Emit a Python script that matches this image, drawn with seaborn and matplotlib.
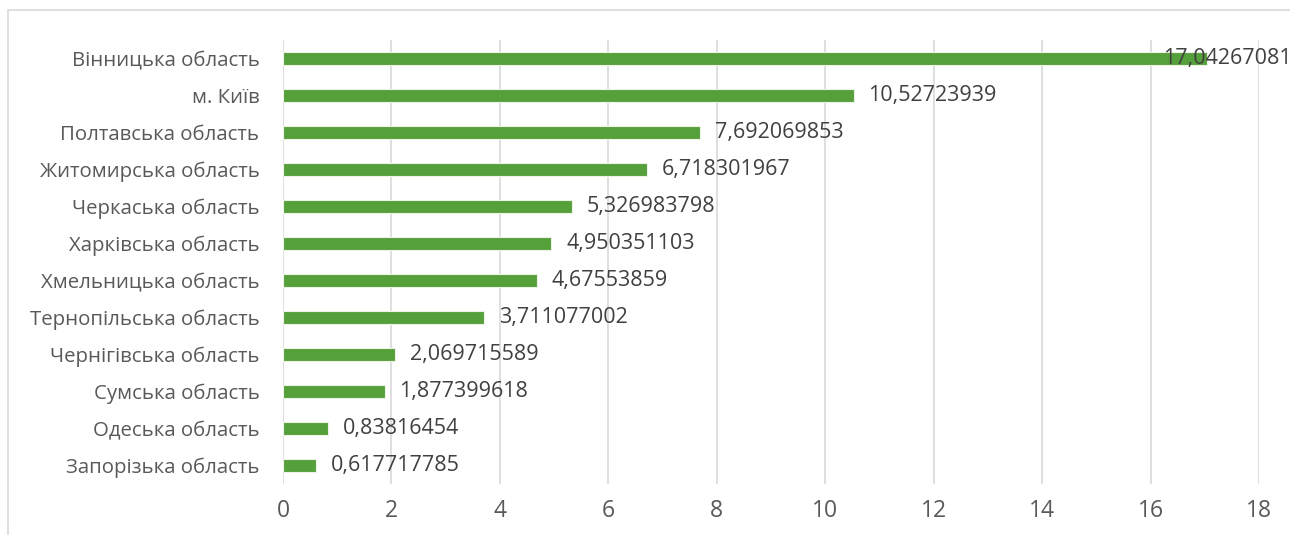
import matplotlib
matplotlib.use("Agg")
import matplotlib.pyplot as plt
import matplotlib.transforms as mtransforms
from matplotlib.patches import Rectangle
import seaborn as sns
import pandas as pd

regions = ["Вінницька область", "м. Київ", "Полтавська область", "Житомирська область",
           "Черкаська область", "Харківська область", "Хмельницька область",
           "Тернопільська область", "Чернігівська область", "Сумська область",
           "Одеська область", "Запорізька область"]
values = [17.04267081, 10.52723939, 7.692069853, 6.718301967, 5.326983798, 4.950351103,
          4.67553859, 3.711077002, 2.069715589, 1.877399618, 0.83816454, 0.617717785]
xticks = [0, 2, 4, 6, 8, 10, 12, 14, 16, 18]

sns.set_theme(style="white")
plt.rcParams['font.family'] = ['Open Sans', 'DejaVu Sans']

W, H = 1290, 535
fig = plt.figure(figsize=(W / 100, H / 100), dpi=100)
ax = fig.add_axes([283 / W, 1 - 484 / H, (1259 - 283) / W, (484 - 40) / H])

df = pd.DataFrame({"region": regions, "value": values})
sns.barplot(data=df, x="value", y="region", orient="h", color="#56A03C",
            saturation=1, width=0.36, edgecolor="#EAF3E4", linewidth=0.8, ax=ax)

ax.set_xlim(0, 18)
ax.set_xticks(xticks)
ax.set_xticklabels([str(t) for t in xticks])
ax.set_xlabel("")
ax.set_ylabel("")
ax.xaxis.grid(True, color="#D9D9D9", linewidth=1.2)
ax.set_axisbelow(True)
for s in ax.spines.values():
    s.set_visible(False)
ax.tick_params(axis="x", colors="#595959", labelsize=16.5, length=0, pad=11)
ax.tick_params(axis="y", colors="#595959", labelsize=14.7, length=0, pad=17)

trans = mtransforms.blended_transform_factory(ax.transAxes, ax.transData)
right_edge = 1 + (1292 - 1259) / (1259 - 283)
for i, v in enumerate(values):
    lab = repr(v).replace(".", ",")
    if v > 16:
        ax.text(right_edge, i, lab, transform=trans, ha="right", va="center",
                fontsize=15.5, color="#404040", clip_on=False)
    else:
        ax.annotate(lab, (v, i), xytext=(10.5, 0), textcoords="offset points",
                    ha="left", va="center", fontsize=15.5, color="#404040")

fig.patches.append(Rectangle((8 / W, -0.1), 1.2, 1 - 10 / H + 0.1, transform=fig.transFigure,
                             fill=False, edgecolor="#D9D9D9", linewidth=1.2))

fig.savefig("out.png", dpi=100)
